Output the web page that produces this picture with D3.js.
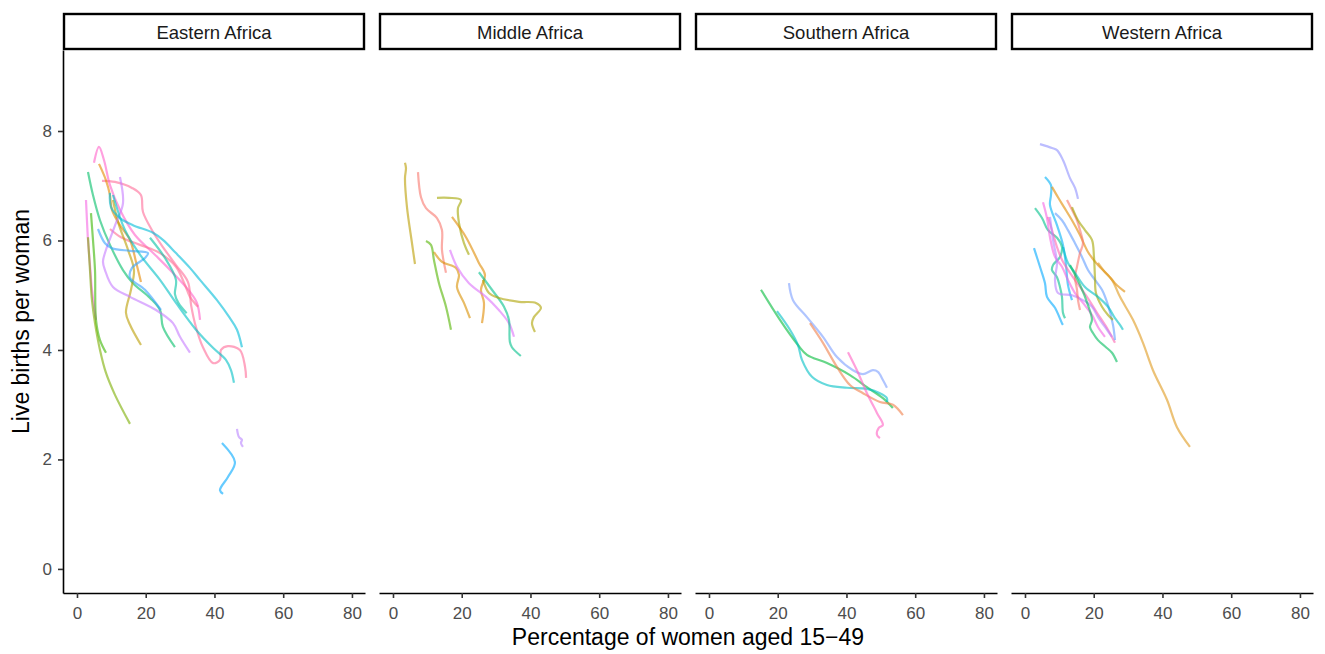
<!DOCTYPE html>
<html>
<head>
<meta charset="utf-8">
<script src="https://cdn.jsdelivr.net/npm/d3@7"></script>
<style>
  html, body { margin: 0; padding: 0; background: #ffffff; }
  svg { display: block; font-family: "Liberation Sans", Arial, Helvetica, sans-serif; }
</style>
</head>
<body>
<svg id="chart" width="1325" height="654"></svg>
<script>
// ---------------- data ----------------
const regions = ["Eastern Africa", "Middle Africa", "Southern Africa", "Western Africa"];
const xTicks = [0, 20, 40, 60, 80];
const yTicks = [0, 2, 4, 6, 8];
const xTitle = "Percentage of women aged 15\u221249";
const yTitle = "Live births per woman";

// each line: [percentage, births] pairs
const easternLines = [
  [[4.95,7.42],[6.4,7.71],[7.85,7.47],[9.6,7.01],[12.5,6.56],[16.87,6.10],[22.69,5.74],[28.5,5.37],[32.87,5.06],[34.9,4.86],[35.8,4.55]],
  [[7.27,7.09],[11.05,7.07],[16.0,6.96],[18.6,6.83],[19.2,6.52],[22.1,6.16],[25.0,5.88],[28.8,5.55],[32.3,5.24],[33.2,4.82],[34.6,4.42],[36.65,4.05],[39.6,3.76],[41.6,3.82],[41.9,4.0],[43.9,4.07],[47.4,4.0],[48.9,3.69],[49.2,3.49]],
  [[2.62,6.74],[2.9,6.37],[3.2,6.01],[3.78,5.55],[4.36,5.10],[5.53,4.55]],
  [[9.6,6.21],[12.8,6.06],[18.33,5.92],[24.15,5.77],[28.8,5.52],[31.4,5.19],[32.87,4.97],[35.2,4.79]],
  [[3.2,7.25],[4.65,6.83],[6.69,6.37],[9.6,5.92],[13.38,5.46],[16.29,5.22],[21.24,4.95],[24.15,4.73],[25.0,4.42],[28.5,4.05]],
  [[4.07,6.50],[4.65,6.01],[5.24,5.46],[5.53,4.55],[6.69,4.18],[8.44,3.95]],
  [[3.2,6.06],[3.78,5.46],[4.36,4.91],[5.24,4.49],[6.69,4.0],[8.44,3.58],[11.05,3.18],[15.42,2.65]],
  [[6.4,7.40],[8.44,7.10],[9.6,6.83],[10.18,6.56],[12.5,6.28],[15.42,6.01],[17.16,5.61],[18.62,5.24]],
  [[10.47,6.74],[11.93,6.34],[14.84,5.83],[16.58,5.46],[15.71,5.10],[14.25,4.68],[15.42,4.46],[18.62,4.09]],
  [[12.5,7.16],[13.38,6.68],[11.35,6.32],[8.44,5.83],[7.56,5.61],[8.15,5.46],[10.47,5.15],[15.42,4.97],[22.98,4.73],[27.93,4.49],[29.96,4.24],[32.87,3.95]],
  [[6.11,6.21],[8.15,5.95],[10.18,5.86],[15.42,5.81],[20.65,5.77],[19.78,5.68],[16.0,5.50],[15.42,5.32],[19.78,5.10],[24.44,4.73]],
  [[9.6,6.87],[9.89,6.61],[12.5,6.41],[16.29,6.28],[22.11,6.14],[25.0,6.01],[28.8,5.77],[32.87,5.50],[35.78,5.28],[40.73,4.91],[44.51,4.58],[46.55,4.37],[48.0,4.05]],
  [[10.47,6.83],[13.96,6.19],[18.33,5.74],[24.15,5.28],[28.8,4.86],[34.62,4.37],[39.56,4.04],[43.34,3.82],[44.8,3.63],[45.67,3.40]],
  [[21.24,6.05],[25.6,5.68],[28.8,5.28],[28.5,5.02],[29.5,4.86],[31.9,4.67]],
  [[42.18,2.30],[45.96,1.95],[43.93,1.68],[41.6,1.44],[42.5,1.37]],
  [[46.55,2.56],[47.13,2.41],[48.0,2.36],[47.7,2.30],[48.29,2.23]]
];
const middleLines = [
  [[3.49,7.42],[3.78,7.32],[3.49,7.14],[4.07,6.61],[5.53,5.95],[6.4,5.57]],
  [[7.27,7.25],[8.15,6.79],[9.6,6.59],[12.8,6.41],[14.25,6.19],[14.25,5.83],[15.42,5.41]],
  [[12.8,6.78],[16.29,6.78],[19.78,6.74],[18.9,6.59],[19.2,6.32],[20.65,5.95],[22.1,5.74]],
  [[9.6,5.99],[11.05,5.92],[11.93,5.64],[13.38,5.22],[15.42,4.79],[16.87,4.37]],
  [[17.16,6.43],[21.24,6.06],[25.0,5.59],[26.76,5.37],[25.6,5.10],[26.47,4.86],[25.89,4.49]],
  [[11.93,5.79],[14.25,5.61],[18.33,5.50],[19.2,5.37],[18.62,5.15],[20.65,4.86],[22.4,4.58]],
  [[16.58,5.83],[18.62,5.52],[22.1,5.22],[27.05,4.97],[30.8,4.73],[33.74,4.49],[35.2,4.24]],
  [[25.0,5.42],[28.8,5.10],[32.3,4.79],[33.74,4.55],[34.0,4.15],[34.6,4.05],[37.2,3.89]],
  [[26.18,5.28],[27.93,5.04],[30.84,4.95],[36.65,4.88],[41.6,4.86],[43.05,4.77],[41.0,4.60],[40.44,4.49],[41.31,4.33]]
];
const southernLines = [
  [[23.27,5.22],[24.44,4.91],[28.5,4.60],[33.16,4.24],[37.24,3.87],[41.89,3.63],[44.8,3.56],[47.7,3.63],[49.16,3.60],[50.6,3.45],[51.78,3.31]],
  [[15.13,5.10],[20.65,4.55],[25.89,4.09],[28.5,3.91],[34.33,3.76],[41.02,3.54],[45.96,3.32],[50.6,3.12],[53.5,2.94]],
  [[19.78,4.71],[23.56,4.37],[25.89,4.09],[27.05,3.82],[29.96,3.51],[34.33,3.36],[40.15,3.31],[45.96,3.29],[49.74,3.21],[51.78,3.12],[51.78,3.05]],
  [[29.38,4.49],[33.16,4.13],[37.24,3.69],[41.02,3.36],[44.8,3.21],[49.74,3.05],[53.52,3.0],[56.43,2.81]],
  [[40.44,3.96],[43.05,3.63],[45.96,3.21],[48.87,2.85],[50.6,2.63],[49.45,2.58],[48.87,2.45],[49.74,2.39]]
];
const westernLines = [
  [[4.36,7.76],[7.85,7.69],[9.31,7.65],[11.05,7.47],[13.09,7.14],[14.55,6.96],[15.42,6.76]],
  [[5.82,7.16],[7.56,7.01],[7.56,6.83],[7.27,6.65],[9.31,6.28],[11.05,5.92],[11.93,5.55],[12.5,5.19],[13.67,4.91]],
  [[2.62,5.86],[4.36,5.52],[5.82,5.22],[6.4,4.97],[8.73,4.77],[10.76,4.49],[11.05,4.46]],
  [[2.91,6.59],[4.95,6.41],[6.69,6.19],[9.31,6.05],[10.76,5.88],[10.18,5.70],[8.15,5.55],[7.85,5.46],[9.31,5.33],[10.18,5.15],[10.76,4.97],[11.05,4.68],[11.64,4.58]],
  [[5.24,6.70],[6.4,6.41],[7.27,6.06],[8.73,5.70],[10.76,5.52],[12.5,5.28],[14.55,5.04],[16.87,4.86],[19.49,4.64],[21.24,4.42],[23.27,4.24]],
  [[6.69,6.43],[7.85,6.19],[9.31,5.88],[11.05,5.61],[13.09,5.41],[18.04,4.97],[20.95,4.68],[24.15,4.37],[26.18,4.13]],
  [[8.73,6.50],[10.76,6.37],[12.5,6.19],[14.55,5.95],[16.58,5.70],[18.33,5.46],[20.36,5.28],[22.4,5.10],[24.15,4.82],[25.6,4.46],[26.18,4.18]],
  [[7.27,6.43],[8.15,6.01],[9.31,5.59],[8.73,5.28],[9.6,5.04],[13.67,5.0],[16.87,4.91],[19.49,4.79],[21.24,4.60],[23.27,4.42],[25.31,4.24]],
  [[7.85,6.98],[9.6,6.79],[11.35,6.61],[13.67,6.37],[16.0,6.10],[18.33,5.79],[21.24,5.55],[24.15,5.37],[26.18,5.22],[29.09,5.06]],
  [[21.24,5.59],[23.27,5.42],[25.31,5.28],[27.64,4.97],[31.42,4.55],[34.33,4.13],[37.24,3.63],[41.31,3.09],[44.22,2.59],[48.0,2.23]],
  [[12.22,6.74],[13.67,6.56],[15.13,6.37],[16.0,6.19],[16.87,5.95],[16.0,5.77],[15.13,5.52],[14.55,5.33],[15.13,5.10],[15.42,4.91],[16.0,4.73]],
  [[13.67,6.61],[15.42,6.37],[17.45,6.19],[19.49,6.01],[20.07,5.70],[20.36,5.33],[20.65,5.04],[22.4,4.79],[24.15,4.64],[25.6,4.55]],
  [[11.05,5.88],[12.5,5.59],[14.55,5.41],[17.45,5.15],[21.24,4.97],[24.15,4.79],[26.18,4.58],[27.64,4.46],[28.51,4.37]],
  [[13.09,5.55],[16.0,5.19],[18.33,4.82],[19.49,4.55],[18.9,4.42],[19.78,4.31],[21.24,4.18],[23.56,4.05],[25.31,3.95],[26.76,3.78]]
];

// ---------------- styles ----------------
const easternColors = ["#FF61C9","#FF6A98","#F564E3","#FF6C91","#00BE67","#39B600","#7CAE00","#E58700","#BB9D00","#C77CFF","#35A2FF","#00BCD8","#00BFC4","#00C1A3","#00A9FF","#B983FF"];
const middleColors = ["#BB9D00","#F8766D","#A3A500","#53B400","#E08B00","#D89000","#DC71FA","#00C08B","#AEA200"];
const southernColors = ["#7C9EFF","#00BA38","#00BFC4","#F07F4A","#FF61C3"];
const westernColors = ["#8F91FF","#00B0F6","#00A9FF","#00C08B","#F564E3","#FF64B0","#619CFF","#B983FF","#E18A00","#DF9A1C","#F8766D","#A3A500","#00BFC4","#00BD5C"];

const panelLines = [easternLines, middleLines, southernLines, westernLines];
const panelColors = [easternColors, middleColors, southernColors, westernColors];

// ---------------- layout ----------------
const svg = d3.select("#chart");
const panelLeft = [63, 379, 695, 1011];
const panelW = 302, panelTop = 50, panelBottom = 593;
const stripTop = 13;
const axisColor = "#000000";
const textGrey = "#4D4D4D";

const x = d3.scaleLinear().domain([-4.07, 83.8]).range([0, panelW]);
const y = d3.scaleLinear().domain([-0.44, 9.48]).range([panelBottom - panelTop, 0]);

const line = d3.line()
  .x(d => x(d[0]))
  .y(d => y(d[1]))
  .curve(d3.curveCatmullRom.alpha(0.5));

regions.forEach((name, i) => {
  const g = svg.append("g").attr("transform", `translate(${panelLeft[i]},${panelTop})`);

  // lines
  panelLines[i].forEach((pts, j) => {
    g.append("path")
      .attr("d", line(pts))
      .attr("fill", "none")
      .attr("stroke", panelColors[i][j % panelColors[i].length])
      .attr("stroke-opacity", 0.6)
      .attr("stroke-width", 2.2)
      .attr("stroke-linecap", "butt")
      .attr("stroke-linejoin", "round");
  });

  // x axis
  const xa = g.append("g").attr("transform", `translate(0,${panelBottom - panelTop})`)
    .call(d3.axisBottom(x).tickValues(xTicks).tickSize(5).tickPadding(5).tickSizeOuter(0));
  xa.select(".domain").attr("stroke", axisColor).attr("stroke-width", 1.6);
  xa.selectAll(".tick line").attr("stroke", "#333333").attr("stroke-width", 1.6);
  xa.selectAll(".tick text").attr("fill", textGrey).attr("font-size", 17)
    .attr("font-family", "Liberation Sans, Arial, sans-serif").attr("dy", "0.95em");

  // y axis (first panel only)
  if (i === 0) {
    const ya = g.append("g")
      .call(d3.axisLeft(y).tickValues(yTicks).tickSize(5).tickPadding(6).tickSizeOuter(0));
    ya.select(".domain").attr("stroke", axisColor).attr("stroke-width", 1.6);
    ya.selectAll(".tick line").attr("stroke", "#333333").attr("stroke-width", 1.6);
    ya.selectAll(".tick text").attr("fill", textGrey).attr("font-size", 17)
      .attr("font-family", "Liberation Sans, Arial, sans-serif");
  }
  // make sure the y-axis line spans the full panel
  g.selectAll(".domain").attr("fill", "none");

  // strip
  const s = svg.append("g").attr("transform", `translate(${panelLeft[i]},${stripTop})`);
  s.append("rect")
    .attr("x", 1).attr("y", 1)
    .attr("width", panelW - 2).attr("height", panelTop - stripTop - 2)
    .attr("fill", "#ffffff").attr("stroke", "#000000").attr("stroke-width", 2.4);
  s.append("text")
    .attr("x", panelW / 2).attr("y", (panelTop - stripTop) / 2 + 1)
    .attr("text-anchor", "middle").attr("dominant-baseline", "central")
    .attr("fill", "#1A1A1A").attr("font-size", 18.5)
    .text(name);
});

// axis titles
svg.append("text")
  .attr("x", (panelLeft[0] + panelLeft[3] + panelW) / 2).attr("y", 645)
  .attr("text-anchor", "middle").attr("fill", "#000000").attr("font-size", 23)
  .text(xTitle);
svg.append("text")
  .attr("transform", `translate(29,${(panelTop + panelBottom) / 2}) rotate(-90)`)
  .attr("text-anchor", "middle").attr("fill", "#000000").attr("font-size", 23)
  .text(yTitle);
</script>
</body>
</html>
